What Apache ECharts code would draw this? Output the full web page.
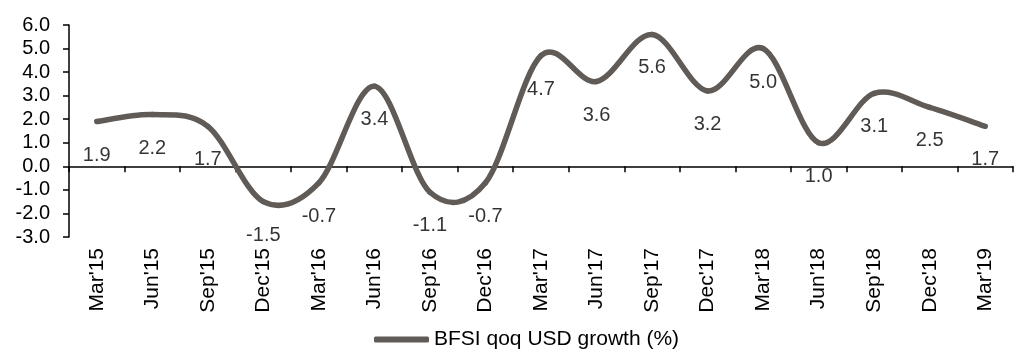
<!DOCTYPE html>
<html>
<head>
<meta charset="utf-8">
<script src="https://cdn.jsdelivr.net/npm/echarts@6/dist/echarts.min.js"></script>
<style>
html,body{margin:0;padding:0;background:#fff;}
#chart{width:1019px;height:352px;}
</style>
</head>
<body>
<div id="chart"></div>
<script>
const categories = ["Mar'15","Jun'15","Sep'15","Dec'15","Mar'16","Jun'16","Sep'16","Dec'16","Mar'17","Jun'17","Sep'17","Dec'17","Mar'18","Jun'18","Sep'18","Dec'18","Mar'19"];
const growth = [1.9, 2.2, 1.7, -1.5, -0.7, 3.4, -1.1, -0.7, 4.7, 3.6, 5.6, 3.2, 5.0, 1.0, 3.1, 2.5, 1.7];
const seriesName = "BFSI qoq USD growth (%)";
const yMin = -3, yMax = 6, yStep = 1;

const font = "'Liberation Sans', Arial, sans-serif";
const lineColor = '#615b57';
const n = growth.length;

// Excel-like smoothed line (Catmull-Rom style Bezier), positions from the library's scales
function renderSegment(params, api) {
  const i = params.dataIndex;
  if (i >= n - 1) return null;
  const idx = k => Math.max(0, Math.min(n - 1, k));
  const p = k => api.coord([idx(k), growth[idx(k)]]);
  const p0 = p(i - 1), p1 = p(i), p2 = p(i + 1), p3 = p(i + 2);
  const f = 1 / 6;
  return {
    type: 'bezierCurve',
    shape: {
      x1: p1[0], y1: p1[1], x2: p2[0], y2: p2[1],
      cpx1: p1[0] + (p2[0] - p0[0]) * f, cpy1: p1[1] + (p2[1] - p0[1]) * f,
      cpx2: p2[0] - (p3[0] - p1[0]) * f, cpy2: p2[1] - (p3[1] - p1[1]) * f
    },
    style: { stroke: lineColor, lineWidth: 5.5, fill: null, lineCap: 'round', lineJoin: 'round' }
  };
}

const chart = echarts.init(document.getElementById('chart'), null, {renderer:'canvas'});
chart.setOption({
  animation:false,
  textStyle:{fontFamily:font},
  grid:{left:69, right:6, top:25, height:212},
  legend:{
    show:true, left:369, top:324, itemWidth:55, itemHeight:6,
    textStyle:{fontSize:21, color:'#000', fontFamily:font},
    data:[{name:seriesName, icon:'roundRect', itemStyle:{color:lineColor}}]
  },
  xAxis:[
    {type:'category', data:categories, boundaryGap:true,
     axisLine:{onZero:true, lineStyle:{color:'#000', width:1.5}},
     axisTick:{show:true, length:6, lineStyle:{color:'#000', width:1.5}},
     axisLabel:{show:false}, splitLine:{show:false}},
    {type:'category', data:categories, boundaryGap:true, position:'bottom',
     axisLine:{show:false}, axisTick:{show:false}, splitLine:{show:false},
     axisLabel:{rotate:90, margin:11, fontSize:21, color:'#000', fontFamily:font, interval:0}}
  ],
  yAxis:{type:'value', min:yMin, max:yMax, interval:yStep,
    axisLine:{show:true, lineStyle:{color:'#000', width:1.5}},
    axisTick:{show:true, length:6, lineStyle:{color:'#000', width:1.5}},
    splitLine:{show:false},
    axisLabel:{fontSize:20, color:'#000', margin:19, fontFamily:font, formatter:v=>v.toFixed(1)}},
  series:[
    {
      name:seriesName, type:'custom', xAxisIndex:0, yAxisIndex:0,
      data:growth.map((v,i)=>[i,v]),
      itemStyle:{color:lineColor},
      renderItem:renderSegment,
      silent:true
    },
    {
      name:'labels', type:'scatter', xAxisIndex:0, yAxisIndex:0,
      data:growth, symbolSize:1, itemStyle:{color:lineColor}, silent:true,
      label:{show:true, position:'bottom', distance:23, fontSize:20, color:'#000', fontFamily:font,
        formatter:p=>p.value.toFixed(1)}
    }
  ]
});
</script>
</body>
</html>
